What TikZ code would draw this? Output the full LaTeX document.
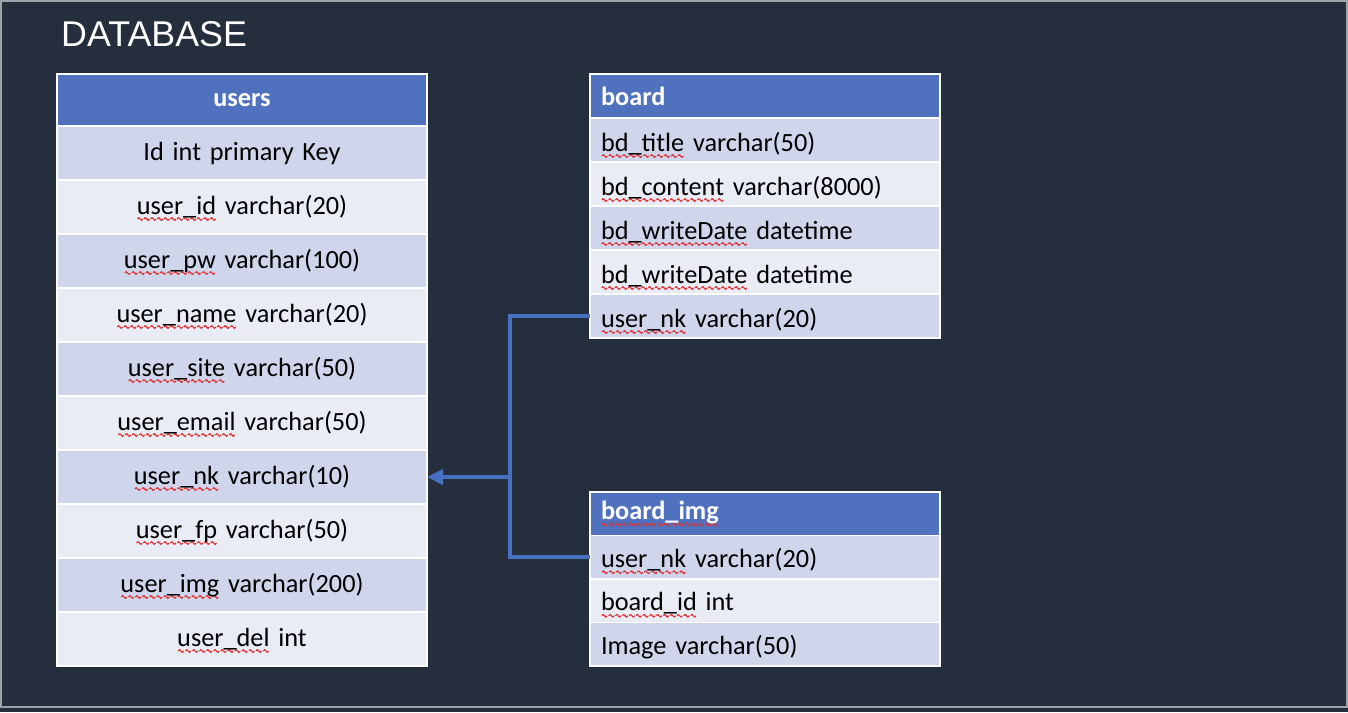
\documentclass[tikz,border=0pt]{standalone}
\usepackage{fontspec}
\setmainfont{Carlito}
\newfontfamily\titlefont{Liberation Sans}
\usetikzlibrary{arrows.meta}
\newsavebox\zzbox
\newsavebox\sqtmp
\newcommand\squig[1]{\sbox\sqtmp{#1}\leavevmode\rlap{\raisebox{-5pt}{\hbox to \wd\sqtmp{\xleaders\copy\zzbox\hfil}}}\usebox\sqtmp}
\definecolor{bgc}{RGB}{37,46,61}
\definecolor{framec}{RGB}{160,164,170}
\definecolor{hdr}{RGB}{80,114,190}
\definecolor{rowd}{RGB}{207,213,234}
\definecolor{rowl}{RGB}{233,235,245}
\definecolor{linkc}{RGB}{72,112,192}
\definecolor{sqred}{RGB}{228,45,45}
\tikzset{
  cell/.style={rectangle, draw=white, line width=1.5pt, inner ysep=0pt, outer sep=0pt,
    anchor=north west, font=\fontsize{26.3}{31}\selectfont, text=black},
  ucell/.style={cell, text width=370pt, inner xsep=0pt, align=center, minimum height=54pt},
  bcell/.style={cell, text width=328pt, inner xsep=11pt, align=left, minimum height=44pt},
  icell/.style={cell, text width=328pt, inner xsep=11pt, align=left, minimum height=43.5pt},
  urow/.style={text height=20pt, text depth=6pt},
  brow/.style={text height=24pt, text depth=2pt},
  irow/.style={text height=23pt, text depth=3pt},
  dark/.style={fill=rowd},
  light/.style={fill=rowl},
  head/.style={fill=hdr, text=white, font=\fontsize{26.3}{31}\selectfont\bfseries},
  conn/.style={draw=linkc, line width=4pt}
}
\begin{document}
\sbox\zzbox{\pgfpicture
  \pgfsetbaseline{0pt}%
  \pgfsetlinewidth{1.1pt}%
  \pgfsetstrokecolor{sqred}%
  \pgfsetroundjoin
  \pgfpathmoveto{\pgfpoint{0pt}{0pt}}%
  \pgfpathlineto{\pgfpoint{1.375pt}{1.4pt}}%
  \pgfpathlineto{\pgfpoint{4.125pt}{-1.4pt}}%
  \pgfpathlineto{\pgfpoint{5.5pt}{0pt}}%
  \pgfusepath{stroke}%
  \pgfpathrectangle{\pgfpoint{0pt}{-1.5pt}}{\pgfpoint{5.5pt}{3pt}}%
  \pgfusepath{use as bounding box}%
\endpgfpicture}%
\begin{tikzpicture}[x=1pt,y=-1pt]
\useasboundingbox (0,0) rectangle (1348,712);
\fill[bgc] (0,0) rectangle (1348,712);
\draw[framec, line width=2pt] (1,1) rectangle (1347,707);
\node[anchor=base west, inner sep=0pt, text=white, font=\titlefont\fontsize{35.8}{40}\selectfont] (title) at (61,46) {DATABASE};

% users
\node[ucell, head, minimum height=52pt] (uh) at (57,74) {users};
\node[ucell, urow, dark]  (u1)  at (57,126) {Id int primary Key};
\node[ucell, urow, light] (u2)  at (57,180) {\squig{user\_id} varchar(20)};
\node[ucell, urow, dark]  (u3)  at (57,234) {\squig{user\_pw} varchar(100)};
\node[ucell, urow, light] (u4)  at (57,288) {\squig{user\_name} varchar(20)};
\node[ucell, urow, dark]  (u5)  at (57,342) {\squig{user\_site} varchar(50)};
\node[ucell, urow, light] (u6)  at (57,396) {\squig{user\_email} varchar(50)};
\node[ucell, urow, dark]  (u7)  at (57,450) {\squig{user\_nk} varchar(10)};
\node[ucell, urow, light] (u8)  at (57,504) {\squig{user\_fp} varchar(50)};
\node[ucell, urow, dark]  (u9)  at (57,558) {\squig{user\_img} varchar(200)};
\node[ucell, urow, light] (u10) at (57,612) {\squig{user\_del} int};

% board
\node[bcell, head] (bh) at (590,74) {board};
\node[bcell, brow, dark]  (b1) at (590,118) {\squig{bd\_title} varchar(50)};
\node[bcell, brow, light] (b2) at (590,162) {\squig{bd\_content} varchar(8000)};
\node[bcell, brow, dark]  (b3) at (590,206) {\squig{bd\_writeDate} datetime};
\node[bcell, brow, light] (b4) at (590,250) {\squig{bd\_writeDate} datetime};
\node[bcell, brow, dark]  (b5) at (590,294) {\squig{user\_nk} varchar(20)};

% board_img
\node[icell, head] (ih) at (590,492) {\squig{board\_img}};
\node[icell, irow, dark]  (i1) at (590,535.5) {\squig{user\_nk} varchar(20)};
\node[icell, irow, light] (i2) at (590,579) {\squig{board\_id} int};
\node[icell, irow, dark]  (i3) at (590,622.5) {Image varchar(50)};

% connectors
\coordinate (j) at ([xshift=83pt]u7.east);
\draw[conn] (b5.west) -| (j) |- (i1.west);
\draw[conn, -{Triangle[length=16pt,width=15pt]}] (j) -- (u7.east);
\end{tikzpicture}
\end{document}
